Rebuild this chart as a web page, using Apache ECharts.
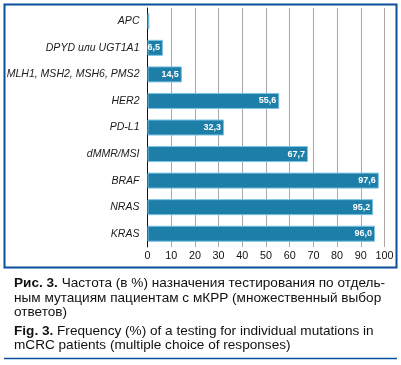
<!DOCTYPE html>
<html><head><meta charset="utf-8">
<script src="https://cdn.jsdelivr.net/npm/echarts@6/dist/echarts.min.js"></script>
<style>html,body{margin:0;padding:0;background:#fff}#c{width:401px;height:365px}</style>
</head><body><div id="c"></div>
<script>
const categories = ["APC","DPYD или UGT1A1","MLH1, MSH2, MSH6, PMS2","HER2","PD-L1","dMMR/MSI","BRAF","NRAS","KRAS"];
const values = [0.8, 6.5, 14.5, 55.6, 32.3, 67.7, 97.6, 95.2, 96.0];
const valueLabels = ["", "6,5", "14,5", "55,6", "32,3", "67,7", "97,6", "95,2", "96,0"];
const xTicks = [0,10,20,30,40,50,60,70,80,90,100];
const captionRu = ["{b|Рис. 3.} Частота (в %) назначения тестирования по отдель-", "ным мутациям пациентам с мКРР (множественный выбор", "ответов)"];
const captionEn = ["{b|Fig. 3.} Frequency (%) of a testing for individual mutations in", "mCRC patients (multiple choice of responses)"];

const narrow = '"Liberation Sans Narrow","Arial Narrow","Liberation Sans",Arial,sans-serif';
const capFont = '"Liberation Sans",Arial,sans-serif';
const ctx = document.createElement('canvas').getContext('2d');
function fit(text, style, family, refSize, target, maxSize){
  ctx.font = style + ' ' + refSize + 'px ' + family;
  const w = ctx.measureText(text).width;
  return Math.min(maxSize, refSize * target / w);
}
const catSize = fit("MLH1, MSH2, MSH6, PMS2", 'italic', narrow, 12, 133, 12.5);
const tickSize = fit("100", 'normal', narrow, 11, 18, 11.5);
const barLabSize = fit("55,6", 'bold', narrow, 11, 17.5, 11);
const capSize = fit("Рис. 3. Частота (в %) назначения тестирования по отдель-", 'normal', capFont, 13, 374, 13.6);

const chart = echarts.init(document.getElementById('c'), null, {renderer:'canvas'});
const blue = '#0b4f9c';
chart.setOption({
  animation:false,
  grid:{left:147.5, right:16.5, top:8, bottom:118, containLabel:false, outerBoundsMode:'none'},
  xAxis:{type:'value', min:0, max:100, interval:10,
    axisLine:{show:false}, axisTick:{show:false},
    splitLine:{lineStyle:{color:'#a8a8a8', width:1}},
    axisLabel:{color:'#111', fontSize:tickSize, fontFamily:narrow, margin:4,
      formatter:v=>xTicks.includes(v)?String(v):''}},
  yAxis:{type:'category', data:categories, inverse:true,
    axisLine:{lineStyle:{color:'#111', width:1}}, axisTick:{show:false},
    axisLabel:{color:'#1a1a1a', fontSize:catSize, fontStyle:'italic', fontFamily:narrow, margin:8}},
  series:[{type:'bar', data:values, barWidth:16,
    itemStyle:{color:'#1d7ea8', borderColor:'#7cc3e3', borderWidth:1},
    label:{show:true, position:'insideRight', color:'#fff', fontWeight:'bold', fontSize:barLabSize, fontFamily:narrow, distance:3,
      formatter:p=>valueLabels[p.dataIndex]}}],
  graphic:[
    {type:'rect', shape:{x:4.5,y:4.5,width:392,height:263}, style:{fill:'none', stroke:blue, lineWidth:2}, z:100},
    {type:'line', shape:{x1:4,y1:358.5,x2:397,y2:358.5}, style:{stroke:blue, lineWidth:1.5}},
    {type:'text', left:14, top:276, style:{text:captionRu.join('\n'), font:capSize+'px '+capFont, fill:'#111', lineHeight:14.5,
      rich:{b:{fontWeight:'bold', fontSize:capSize, fontFamily:capFont, fill:'#111'}}}},
    {type:'text', left:14, top:323.5, style:{text:captionEn.join('\n'), font:capSize+'px '+capFont, fill:'#111', lineHeight:14.5,
      rich:{b:{fontWeight:'bold', fontSize:capSize, fontFamily:capFont, fill:'#111'}}}}
  ]
});
</script></body></html>
